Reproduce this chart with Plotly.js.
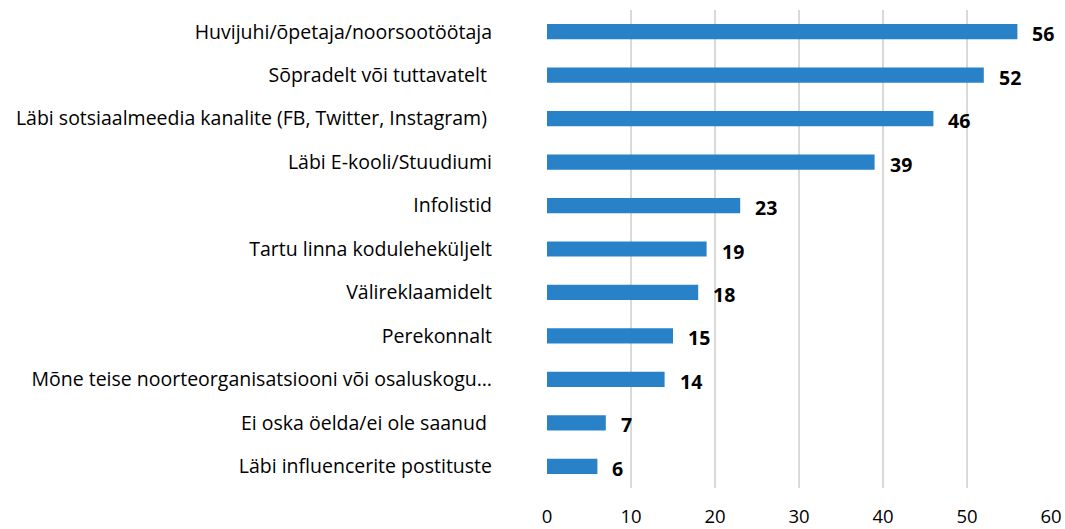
<!DOCTYPE html>
<html>
<head>
<meta charset="utf-8">
<script src="https://cdn.plot.ly/plotly-3.0.1.min.js"></script>
<style>html,body{margin:0;padding:0;background:#fff;}#chart{width:1065px;height:529px;}</style>
</head>
<body>
<div id="chart"></div>
<script>
const categories = [
  "Huvijuhi/õpetaja/noorsootöötaja",
  "Sõpradelt või tuttavatelt\u00a0",
  "Läbi sotsiaalmeedia kanalite (FB, Twitter, Instagram)\u00a0",
  "Läbi E-kooli/Stuudiumi",
  "Infolistid",
  "Tartu linna koduleheküljelt",
  "Välireklaamidelt",
  "Perekonnalt",
  "Mõne teise noorteorganisatsiooni või osaluskogu…",
  "Ei oska öelda/ei ole saanud\u00a0",
  "Läbi influencerite postituste"
];
const values = [56, 52, 46, 39, 23, 19, 18, 15, 14, 7, 6];
const xTicks = [0, 10, 20, 30, 40, 50, 60];

const FONT = "'Open Sans', sans-serif";
const FS = 19.5;

const trace = {
  type: 'bar',
  orientation: 'h',
  x: values,
  y: categories,
  marker: {color: '#2982C8'},
  hoverinfo: 'none'
};

const annotations = values.map((v, i) => ({
  x: v, y: categories[i], xref: 'x', yref: 'y',
  text: '<b>' + v + '</b>', showarrow: false,
  xanchor: 'left', yanchor: 'middle', xshift: 13, yshift: -2,
  font: {family: FONT, size: FS, color: '#000'}
}));

const layout = {
  width: 1065, height: 529,
  margin: {l: 547, r: 14, t: 10, b: 41},
  paper_bgcolor: '#fff', plot_bgcolor: '#fff',
  showlegend: false,
  bargap: 0.65,
  font: {family: FONT, size: FS, color: '#000'},
  xaxis: {
    range: [0, 60], tickvals: xTicks, ticktext: xTicks.map(String),
    showgrid: true, gridcolor: '#D9D9D9', gridwidth: 1.3,
    zeroline: false, showline: false, ticks: '',
    ticklabelstandoff: 15,
    tickfont: {family: FONT, size: 18.5, color: '#000'},
    fixedrange: true
  },
  yaxis: {
    type: 'category', autorange: 'reversed',
    showgrid: false, zeroline: false, showline: false, ticks: '',
    ticklabelstandoff: 54,
    tickfont: {family: FONT, size: FS, color: '#000'},
    fixedrange: true
  },
  annotations: annotations
};

Plotly.newPlot('chart', [trace], layout, {displayModeBar: false, staticPlot: true});
</script>
</body>
</html>
